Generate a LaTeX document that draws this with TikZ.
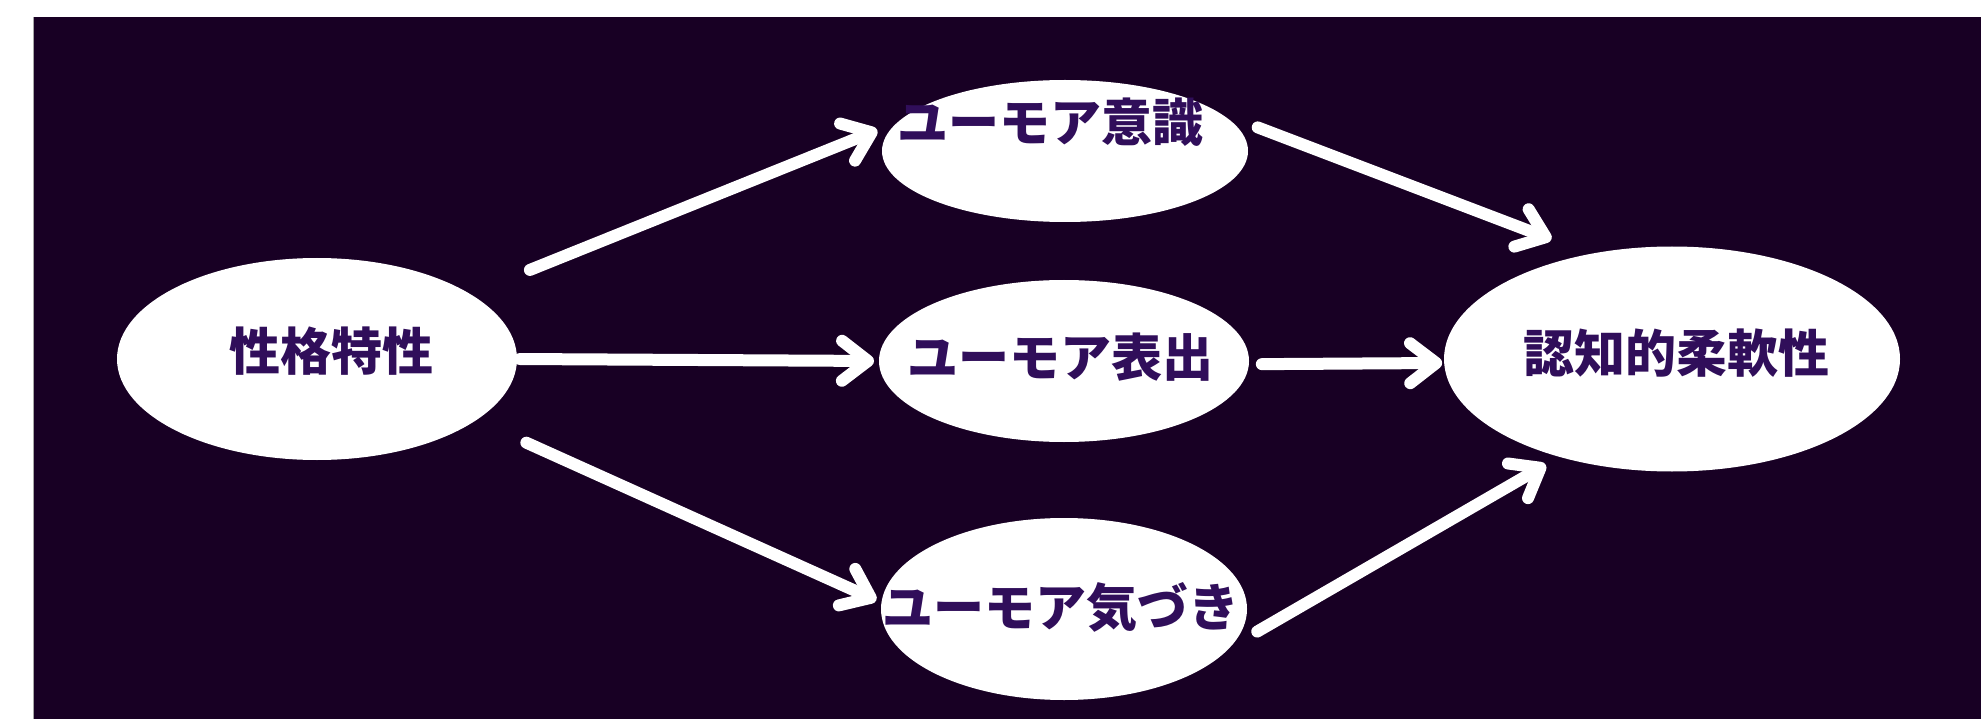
\documentclass[tikz,border=0pt]{standalone}
\usepackage{fontspec}
\newfontfamily\jp{Noto Sans CJK JP}
\usetikzlibrary{arrows.meta,shapes.geometric}
\definecolor{bg}{RGB}{24,0,36}
\definecolor{ink}{RGB}{48,14,90}
\begin{document}
\begin{tikzpicture}[x=1pt,y=-1pt,
  ell/.style={ellipse, fill=white, inner sep=0pt, outer sep=0pt},
  txt/.style={font=\jp\bfseries\fontsize{51}{60}\selectfont, text=ink, inner sep=0pt},
  arr/.style={white, line width=12pt, line cap=round,
    -{Straight Barb[length=26pt,width=40pt,line cap=round,line join=round]}}]
\useasboundingbox (0,0) rectangle (1981,719);
\fill[white] (0,0) rectangle (1981,719);
\fill[bg] (33,17) rectangle (1981,719);
\draw[gray!70, line width=1.5pt] (33.5,17) -- (33.5,719);

\node[ell, minimum width=400pt, minimum height=202pt,
  label={[txt,xshift=14pt,yshift=8pt]center:性格特性}] (A) at (317,359) {};
\node[ell, minimum width=366pt, minimum height=142pt,
  label={[txt,xshift=-15pt,yshift=29pt]center:ユーモア意識}] (B) at (1065,151) {};
\node[ell, minimum width=370pt, minimum height=162pt,
  label={[txt,xshift=-4pt,yshift=4pt]center:ユーモア表出}] (C) at (1064,361) {};
\node[ell, minimum width=366pt, minimum height=182pt,
  label={[txt,xshift=-3pt,yshift=2pt]center:ユーモア気づき}] (D) at (1064,609) {};
\node[ell, minimum width=456pt, minimum height=225pt,
  label={[txt,xshift=4pt,yshift=6pt]center:認知的柔軟性}] (E) at (1672,359) {};

\draw[arr, shorten <=64.5pt, shorten >=22.8pt] (A.23.7) -- (B.170.3);
\draw[arr, shorten <=3pt, shorten >=5pt] (A.0) -- (C.180);
\draw[arr, shorten <=55pt, shorten >=5.7pt] (A.339.6) -- (D.178.9);
\draw[arr, shorten <=41.5pt, shorten >=41.3pt] (B.14.4) -- (E.128.7);
\draw[arr, shorten <=13pt, shorten >=2pt] (C.-1) -- (E.181);
\draw[arr, shorten <=31.5pt, shorten >=15.9pt] (D.-13.1) -- (E.221.7);
\end{tikzpicture}
\end{document}
